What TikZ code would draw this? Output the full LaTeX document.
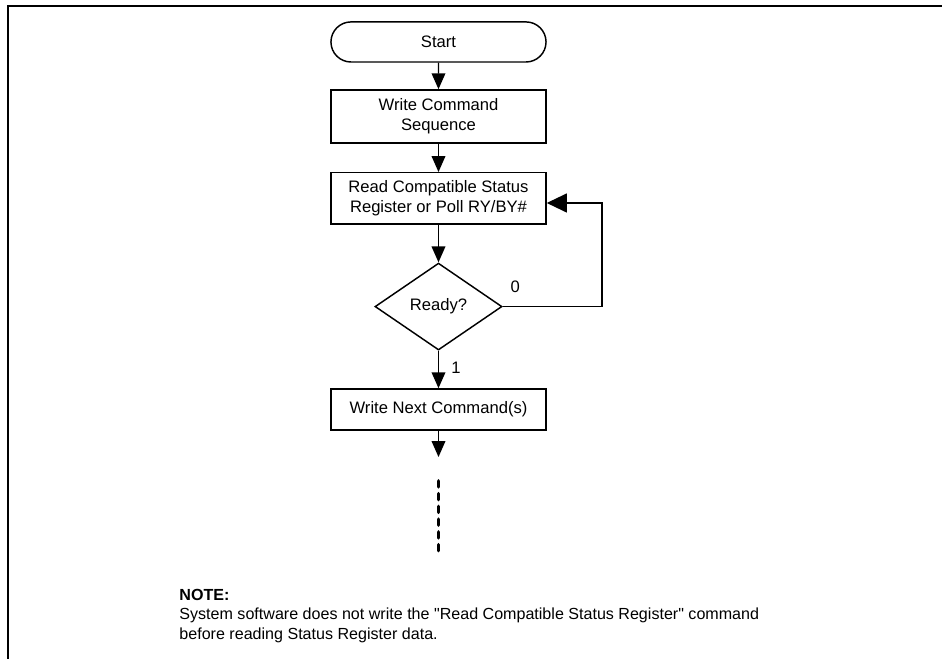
\documentclass[tikz,border=0pt]{standalone}
\usepackage{fontspec}
\setmainfont{Liberation Sans}[Ligatures=TeXOff]
\usetikzlibrary{shapes.geometric,shapes.misc,arrows.meta}

\begin{document}
\begin{tikzpicture}[
    box/.style={draw,line width=1.1pt,minimum width=5.69cm,inner sep=0pt,align=center,
      font=\fontsize{12.5}{15}\selectfont},
    term/.style={box,rounded rectangle,minimum height=1.06cm},
    decide/.style={box,diamond,minimum width=3.36cm,minimum height=2.30cm},
    lbl/.style={inner sep=0pt,font=\fontsize{12.5}{15}\selectfont},
    flow/.style={line width=1.1pt,-{Triangle[length=0.42cm,width=0.36cm]}},
    back/.style={line width=1.1pt,-{Triangle[length=0.53cm,width=0.50cm]}},
    more/.style={line width=2.6pt,line cap=round,dash pattern=on 4.6pt off 5pt}]

  \useasboundingbox (0,0) rectangle (24.92,-17.41);

  % frame
  \draw[line width=1.75pt] (0.21,-17.6) -- (0.21,-0.16) -- (25.1,-0.16);

  % flow chart
  \node[term] (start) at (11.60,-1.11) {Start};
  \node[box,minimum height=1.40cm] (cmd) at (11.60,-3.08) {Write Command\\Sequence};
  \node[box,minimum height=1.36cm] (read) at (11.60,-5.25) {Read Compatible Status\\Register or Poll RY/BY\#};
  \node[decide] (ready) at (11.60,-8.11) {Ready?};
  \node[box,minimum height=1.08cm] (next) at (11.60,-10.83) {Write Next Command(s)};
  \coordinate (cont) at (11.60,-12.09);
  \coordinate (dotA) at (11.60,-12.72);
  \coordinate (dotB) at (11.60,-14.66);

  \node[lbl] (zero) at (13.63,-7.59) {0};
  \node[lbl] (one) at (12.06,-9.74) {1};

  \draw[flow] (start) to (cmd);
  \draw[flow] (cmd) to (read);
  \draw[flow] (read) to (ready);
  \draw[flow] (ready) to (next);
  \draw[flow] (next) to (cont);
  \draw[back] (ready.east) -- ++(2.62,0) |- ([yshift=-0.12cm]read.east);
  \draw[more] (dotA) -- (dotB);

  % note
  \node[anchor=north west,align=left,inner sep=0pt,
    font=\fontsize{12.1}{14.6}\selectfont] (note) at (4.74,-15.58)
    {\textbf{NOTE:}\\
     System software does not write the "Read Compatible Status Register" command\\
     before reading Status Register data.};

\end{tikzpicture}
\end{document}
